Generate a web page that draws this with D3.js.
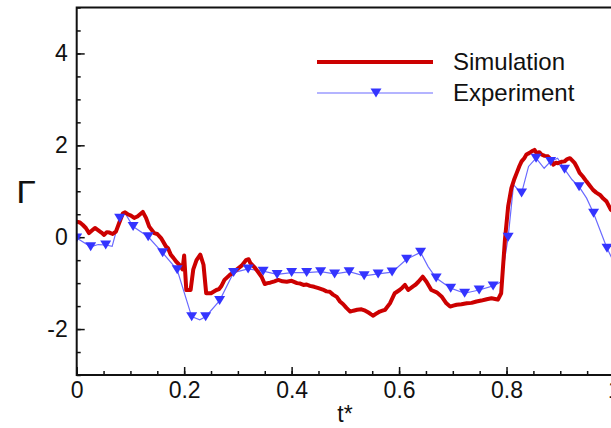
<!DOCTYPE html>
<html>
<head>
<meta charset="utf-8">
<script src="https://cdn.jsdelivr.net/npm/d3@7"></script>
<style>
  html, body { margin: 0; padding: 0; background: #fff; overflow: hidden; }
  svg { display: block; }
  text { font-family: "Liberation Sans", Arial, sans-serif; fill: #111; }
</style>
</head>
<body>
<svg id="chart" width="611" height="428"></svg>
<script>
// Circulation history: simulation vs. experiment
const simT = [0.000, 0.006, 0.011, 0.017, 0.023, 0.030, 0.034, 0.039, 0.046, 0.051, 0.056, 0.061, 0.067, 0.073, 0.079,
  0.086, 0.090, 0.095, 0.101, 0.107, 0.113, 0.118, 0.123, 0.129, 0.135, 0.144, 0.150, 0.157, 0.166, 0.170, 0.175,
  0.180, 0.185, 0.191, 0.197, 0.200, 0.204, 0.212, 0.217, 0.223, 0.230, 0.236, 0.241, 0.250, 0.260, 0.265, 0.269,
  0.275, 0.285, 0.291, 0.297, 0.307, 0.315, 0.320, 0.323, 0.332, 0.344, 0.350, 0.355, 0.360, 0.368, 0.375, 0.383,
  0.391, 0.400, 0.410, 0.416, 0.422, 0.428, 0.434, 0.442, 0.450, 0.458, 0.465, 0.471, 0.477, 0.484, 0.490, 0.496,
  0.502, 0.509, 0.515, 0.522, 0.530, 0.537, 0.543, 0.548, 0.552, 0.558, 0.564, 0.569, 0.574, 0.583, 0.592, 0.601,
  0.606, 0.611, 0.617, 0.626, 0.631, 0.636, 0.644, 0.651, 0.660, 0.670, 0.679, 0.688, 0.695, 0.701, 0.707, 0.716,
  0.726, 0.735, 0.744, 0.753, 0.763, 0.772, 0.781, 0.784, 0.790, 0.797, 0.803, 0.809, 0.814, 0.819, 0.824, 0.828,
  0.833, 0.837, 0.842, 0.847, 0.852, 0.856, 0.861, 0.865, 0.871, 0.877, 0.882, 0.887, 0.892, 0.896, 0.902, 0.908,
  0.913, 0.918, 0.923, 0.927, 0.932, 0.936, 0.942, 0.949, 0.955, 0.961, 0.967, 0.974, 0.980, 0.986, 0.994, 1.000];
const simV = [0.34, 0.32, 0.27, 0.20, 0.09, 0.16, 0.20, 0.16, 0.10, 0.05, 0.11, 0.10, 0.07, 0.12, 0.31,
  0.52, 0.54, 0.50, 0.47, 0.42, 0.45, 0.50, 0.55, 0.42, 0.23, 0.09, 0.07, -0.02, -0.20, -0.24, -0.38,
  -0.45, -0.53, -0.60, -0.70, -0.40, -1.15, -1.15, -0.70, -0.50, -0.38, -0.60, -1.22, -1.22, -1.15, -1.13, -1.07,
  -0.93, -0.82, -0.78, -0.71, -0.62, -0.50, -0.48, -0.56, -0.67, -0.86, -1.02, -1.00, -0.99, -0.96,
  -0.93, -0.96, -0.97, -0.95, -1.00, -1.01, -1.04, -1.03, -1.06, -1.08, -1.11, -1.14, -1.18, -1.19, -1.25, -1.30,
  -1.40, -1.46, -1.54, -1.62, -1.60, -1.58, -1.57, -1.60, -1.64, -1.68, -1.71, -1.66, -1.62, -1.60, -1.58, -1.44,
  -1.22, -1.15, -1.10, -1.04, -1.15, -1.07, -1.03, -0.97, -0.86, -0.97, -1.15, -1.20, -1.29, -1.44, -1.51, -1.49,
  -1.47, -1.46, -1.44, -1.43, -1.40, -1.38, -1.35, -1.33, -1.35, -1.36, -1.22, -0.06, 0.67, 1.07, 1.25, 1.40,
  1.55, 1.65, 1.72, 1.80, 1.83, 1.87, 1.90, 1.83, 1.85, 1.80, 1.77, 1.76, 1.70, 1.58, 1.62, 1.61, 1.64, 1.65,
  1.70, 1.72, 1.66, 1.61, 1.50, 1.40, 1.32, 1.21, 1.12, 1.03, 0.97, 0.92, 0.84, 0.78, 0.60, 0.55];

// Experiment: sampled points carrying a marker
const expT = [0.000, 0.026, 0.054, 0.080, 0.105, 0.133, 0.160, 0.187, 0.214, 0.240, 0.266, 0.292, 0.319,
  0.347, 0.373, 0.400, 0.428, 0.454, 0.480, 0.507, 0.535, 0.561, 0.587, 0.614, 0.640, 0.669, 0.696, 0.722,
  0.749, 0.775, 0.803, 0.828, 0.855, 0.882, 0.908, 0.935, 0.962, 0.987];
const expV = [-0.02, -0.21, -0.17, 0.41, 0.23, 0.01, -0.34, -0.71, -1.73, -1.73, -1.38, -0.77, -0.69,
  -0.74, -0.81, -0.77, -0.77, -0.75, -0.80, -0.75, -0.84, -0.80, -0.76, -0.48, -0.33, -0.89, -1.11, -1.22,
  -1.15, -1.06, 0.00, 0.96, 1.72, 1.65, 1.48, 1.10, 0.52, -0.24];
// Experiment: intermediate points on the line between markers
const expMidT = [0.040, 0.066, 0.090, 0.229, 0.654, 0.790, 0.813, 0.841, 0.870, 0.895, 0.922, 0.949, 1.000];
const expMidV = [-0.16, -0.20, 0.52, -1.80, -0.64, -0.97, 1.14, 1.54, 1.50, 1.72, 1.25, 0.85, -0.55];

const xTicks = [0, 0.2, 0.4, 0.6, 0.8, 1];
const xTickLabels = ["0", "0.2", "0.4", "0.6", "0.8", "1"];
const yTicks = [-2, 0, 2, 4];
const yTickLabels = ["-2", "0", "2", "4"];
const seriesNames = ["Simulation", "Experiment"];

const svg = d3.select("#chart");
const plotL = 76.7, plotR = 614, plotT = 7.5, plotB = 375;

const x = d3.scaleLinear().domain([0, 1]).range([plotL, plotR]);
const y = d3.scaleLinear().domain([-3, 5]).range([plotB, plotT]);

const red = "#cc0000", blueLine = "#6a6aff", blueMark = "#3434ff";

svg.append("defs").append("clipPath").attr("id", "plot")
  .append("rect").attr("x", plotL).attr("y", plotT).attr("width", plotR - plotL).attr("height", plotB - plotT);

// Minor ticks (inward)
const xMinor = d3.range(0, 1.0001, 0.05);
const yMinor = d3.range(-3, 5.0001, 0.5);

const gx = svg.append("g").attr("transform", `translate(0,${plotB})`);
gx.call(d3.axisBottom(x).tickValues(xMinor).tickSize(-4).tickFormat(""));
gx.select(".domain").remove();
const gxMaj = svg.append("g").attr("transform", `translate(0,${plotB})`)
  .call(d3.axisBottom(x).tickValues(xTicks).tickSize(-8).tickPadding(7)
    .tickFormat((d, i) => xTickLabels[i]));
gxMaj.select(".domain").remove();

const gy = svg.append("g").attr("transform", `translate(${plotL},0)`);
gy.call(d3.axisLeft(y).tickValues(yMinor).tickSize(-4).tickFormat(""));
gy.select(".domain").remove();
const gyMaj = svg.append("g").attr("transform", `translate(${plotL},0)`)
  .call(d3.axisLeft(y).tickValues(yTicks).tickSize(-8).tickPadding(9)
    .tickFormat((d, i) => yTickLabels[i]));
gyMaj.select(".domain").remove();

svg.selectAll(".tick line").attr("stroke", "#111").attr("stroke-width", 1.5);
svg.selectAll(".tick text").attr("font-size", 23).attr("font-family", "Liberation Sans, Arial, sans-serif").attr("fill", "#111");

// Series
const plot = svg.append("g").attr("clip-path", "url(#plot)");
const line = d3.line().x(d => x(d[0])).y(d => y(d[1]));

const simData = simT.map((t, i) => [t, simV[i]]);
const expMarks = expT.map((t, i) => [t, expV[i]]);
const expLine = expMarks.concat(expMidT.map((t, i) => [t, expMidV[i]])).sort((a, b) => a[0] - b[0]);

plot.append("path").datum(expLine).attr("d", line)
  .attr("fill", "none").attr("stroke", blueLine).attr("stroke-width", 1.2);

plot.append("path").datum(simData).attr("d", line)
  .attr("fill", "none").attr("stroke", red).attr("stroke-width", 4).attr("stroke-linejoin", "round");

const tri = "M-5.5,-4.5L5.5,-4.5L0,4.5Z";
plot.selectAll(".mk").data(expMarks).enter().append("path")
  .attr("class", "mk")
  .attr("d", tri).attr("transform", d => `translate(${x(d[0])},${y(d[1])})`)
  .attr("fill", blueMark);

// Frame
svg.append("rect").attr("x", plotL).attr("y", plotT).attr("width", plotR - plotL).attr("height", plotB - plotT)
  .attr("fill", "none").attr("stroke", "#111").attr("stroke-width", 2);

// Axis titles
svg.append("text").attr("x", 345).attr("y", 422).attr("text-anchor", "middle")
  .attr("font-size", 23).text("t*");
svg.append("text").attr("transform", "translate(26,203) scale(1.15,1)").attr("text-anchor", "middle")
  .attr("font-family", "Liberation Serif, Times New Roman, serif").attr("font-size", 31).text("Γ");

// Legend
const lg = svg.append("g");
lg.append("line").attr("x1", 317).attr("x2", 433).attr("y1", 62).attr("y2", 62)
  .attr("stroke", red).attr("stroke-width", 4);
lg.append("text").attr("x", 453).attr("y", 70).attr("font-size", 24).text(seriesNames[0]);
lg.append("line").attr("x1", 317).attr("x2", 433).attr("y1", 93).attr("y2", 93)
  .attr("stroke", blueLine).attr("stroke-width", 1.2);
lg.append("path").attr("d", tri).attr("transform", "translate(376,93)").attr("fill", blueMark);
lg.append("text").attr("x", 453).attr("y", 101).attr("font-size", 24).text(seriesNames[1]);
</script>
</body>
</html>
